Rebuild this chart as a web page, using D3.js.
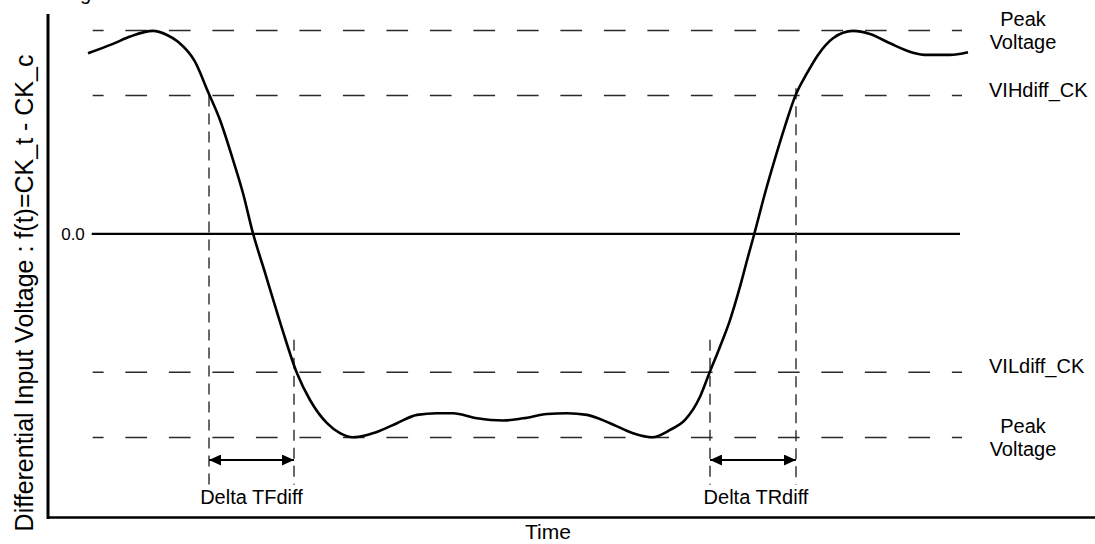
<!DOCTYPE html>
<html>
<head>
<meta charset="utf-8">
<script src="https://cdn.jsdelivr.net/npm/d3@7"></script>
<style>
  body { margin: 0; background: #fff; }
  text { font-family: "Liberation Sans", Arial, sans-serif; fill: #000; }
</style>
</head>
<body>
<svg id="chart" width="1095" height="544"></svg>
<script>
'use strict'

// differential clock waveform, time (ps) vs normalized voltage
const times = [40, 65, 82, 105, 119, 130, 147, 160, 172, 185, 195, 205, 217, 225, 235, 249, 262, 279, 292, 305,
	319, 332, 349, 369, 389, 405, 429, 455, 475, 499, 519, 539, 562, 585, 604, 622, 637, 652, 661, 672,
	682, 692, 700, 706, 717, 727, 737, 747, 759, 770, 785, 805, 822, 842, 865, 879, 902, 920]
const volts = [0.888, 0.934, 0.970, 0.998, 0.978, 0.945, 0.847, 0.699, 0.560, 0.364, 0.200, 0.003, -0.19, -0.32, -0.48, -0.685, -0.816, -0.930, -0.979, -0.999,
	-0.988, -0.967, -0.930, -0.889, -0.881, -0.881, -0.906, -0.917, -0.906, -0.885, -0.881, -0.889, -0.930, -0.979, -0.999, -0.963, -0.914, -0.800, -0.688, -0.554,
	-0.423, -0.259, -0.112, -0.005, 0.200, 0.370, 0.530, 0.675, 0.790, 0.880, 0.962, 0.998, 0.983, 0.937, 0.891, 0.880, 0.880, 0.893]

// reference levels
const levelNames = ['Peak\nVoltage', 'VIHdiff_CK', 'VILdiff_CK', 'Peak\nVoltage']
const levelValues = [1.0, 0.68, -0.68, -1.0]

// timing markers: [start, end] of each delta and the vertical extent of each marker line
const deltaNames = ['Delta TFdiff', 'Delta TRdiff']
const deltaStart = [161, 662]
const deltaEnd = [246, 748]
const markerTop = [[0.68, -0.52], [-0.52, 0.716]]
const markerBottom = -1.233
const arrowLevel = -1.111
const labelLevel = -1.327

const zeroLabel = '0.0'
const xTitle = 'Time'
const yTitle = 'Differential Input Voltage : f(t)=CK_t - CK_c'

const svg = d3.select('#chart')

const x = d3.scaleLinear().domain([0, 1047]).range([48, 1095])
const y = d3.scaleLinear().domain([-1.386, 1.081]).range([516, 14])

const refStart = 44.7, refEnd = 914

// arrow heads
const defs = svg.append('defs')
defs.append('marker')
	.attr('id', 'head')
	.attr('viewBox', '0 0 12 11')
	.attr('refX', 12).attr('refY', 5.5)
	.attr('markerWidth', 12).attr('markerHeight', 11)
	.attr('markerUnits', 'userSpaceOnUse')
	.attr('orient', 'auto-start-reverse')
	.append('path')
	.attr('d', 'M0,0L12,5.5L0,11Z')
	.attr('fill', '#000')

// dashed reference levels
svg.append('g').selectAll('line')
	.data(levelValues)
	.join('line')
	.attr('x1', x(refStart)).attr('x2', x(refEnd))
	.attr('y1', d => y(d)).attr('y2', d => y(d))
	.attr('stroke', '#2a2a2a')
	.attr('stroke-width', 1.5)
	.attr('stroke-dasharray', '21.7,21.8')
	.attr('stroke-dashoffset', 10.8)

// zero line
svg.append('line')
	.attr('x1', x(43.7)).attr('x2', x(912))
	.attr('y1', y(0)).attr('y2', y(0))
	.attr('stroke', '#000')
	.attr('stroke-width', 2.2)

svg.append('text')
	.attr('x', 73).attr('y', y(0))
	.attr('dy', '0.35em')
	.attr('text-anchor', 'middle')
	.style('font-size', '17px')
	.text(zeroLabel)

// timing marker lines
const markers = []
deltaStart.forEach((t, i) => {
	markers.push({ t: t, top: markerTop[i][0] })
	markers.push({ t: deltaEnd[i], top: markerTop[i][1] })
})
svg.append('g').selectAll('line')
	.data(markers)
	.join('line')
	.attr('x1', d => x(d.t)).attr('x2', d => x(d.t))
	.attr('y1', d => y(d.top)).attr('y2', y(markerBottom))
	.attr('stroke', '#2a2a2a')
	.attr('stroke-width', 1.4)
	.attr('stroke-dasharray', '11,7')

// double arrows
svg.append('g').selectAll('line')
	.data(deltaStart)
	.join('line')
	.attr('x1', d => x(d)).attr('x2', (d, i) => x(deltaEnd[i]))
	.attr('y1', y(arrowLevel)).attr('y2', y(arrowLevel))
	.attr('stroke', '#000')
	.attr('stroke-width', 2)
	.attr('marker-start', 'url(#head)')
	.attr('marker-end', 'url(#head)')

svg.append('g').selectAll('text')
	.data(deltaNames)
	.join('text')
	.attr('x', (d, i) => (x(deltaStart[i]) + x(deltaEnd[i])) / 2 + 3 * i)
	.attr('y', y(labelLevel))
	.attr('text-anchor', 'middle')
	.style('font-size', '20px')
	.text(d => d)

// waveform
const pts = times.map((t, i) => [t, volts[i]])
const line = d3.line()
	.x(d => x(d[0]))
	.y(d => y(d[1]))
	.curve(d3.curveMonotoneX)
svg.append('path')
	.datum(pts)
	.attr('d', line)
	.attr('fill', 'none')
	.attr('stroke', '#000')
	.attr('stroke-width', 2.6)
	.attr('stroke-linejoin', 'round')

// level labels on the right
levelNames.forEach((name, i) => {
	let parts = name.split('\n')
	let g = svg.append('text').style('font-size', '20px')
	if (parts.length === 1) {
		g.attr('x', 989).attr('y', y(levelValues[i]) + 1).text(name)
	} else {
		g.attr('text-anchor', 'middle')
		g.append('tspan').attr('x', 1023).attr('y', y(levelValues[i]) - 4).text(parts[0])
		g.append('tspan').attr('x', 1023).attr('y', y(levelValues[i]) + 19).text(parts[1])
	}
})

// axes (plain lines, no ticks)
svg.append('line')
	.attr('x1', 48).attr('x2', 48).attr('y1', 14).attr('y2', 519)
	.attr('stroke', '#000').attr('stroke-width', 3)
svg.append('line')
	.attr('x1', 47).attr('x2', 1095).attr('y1', 517.5).attr('y2', 517.5)
	.attr('stroke', '#000').attr('stroke-width', 2.5)

svg.append('text')
	.attr('x', 548).attr('y', 539)
	.attr('text-anchor', 'middle')
	.style('font-size', '21px')
	.text(xTitle)

svg.append('text')
	.attr('transform', 'translate(33,293) rotate(-90)')
	.attr('text-anchor', 'middle')
	.style('font-size', '25px')
	.text(yTitle)

// tail of a clipped heading at the very top
svg.append('text')
	.attr('x', 80).attr('y', 0)
	.style('font-size', '20px')
	.text('g')
</script>
</body>
</html>
